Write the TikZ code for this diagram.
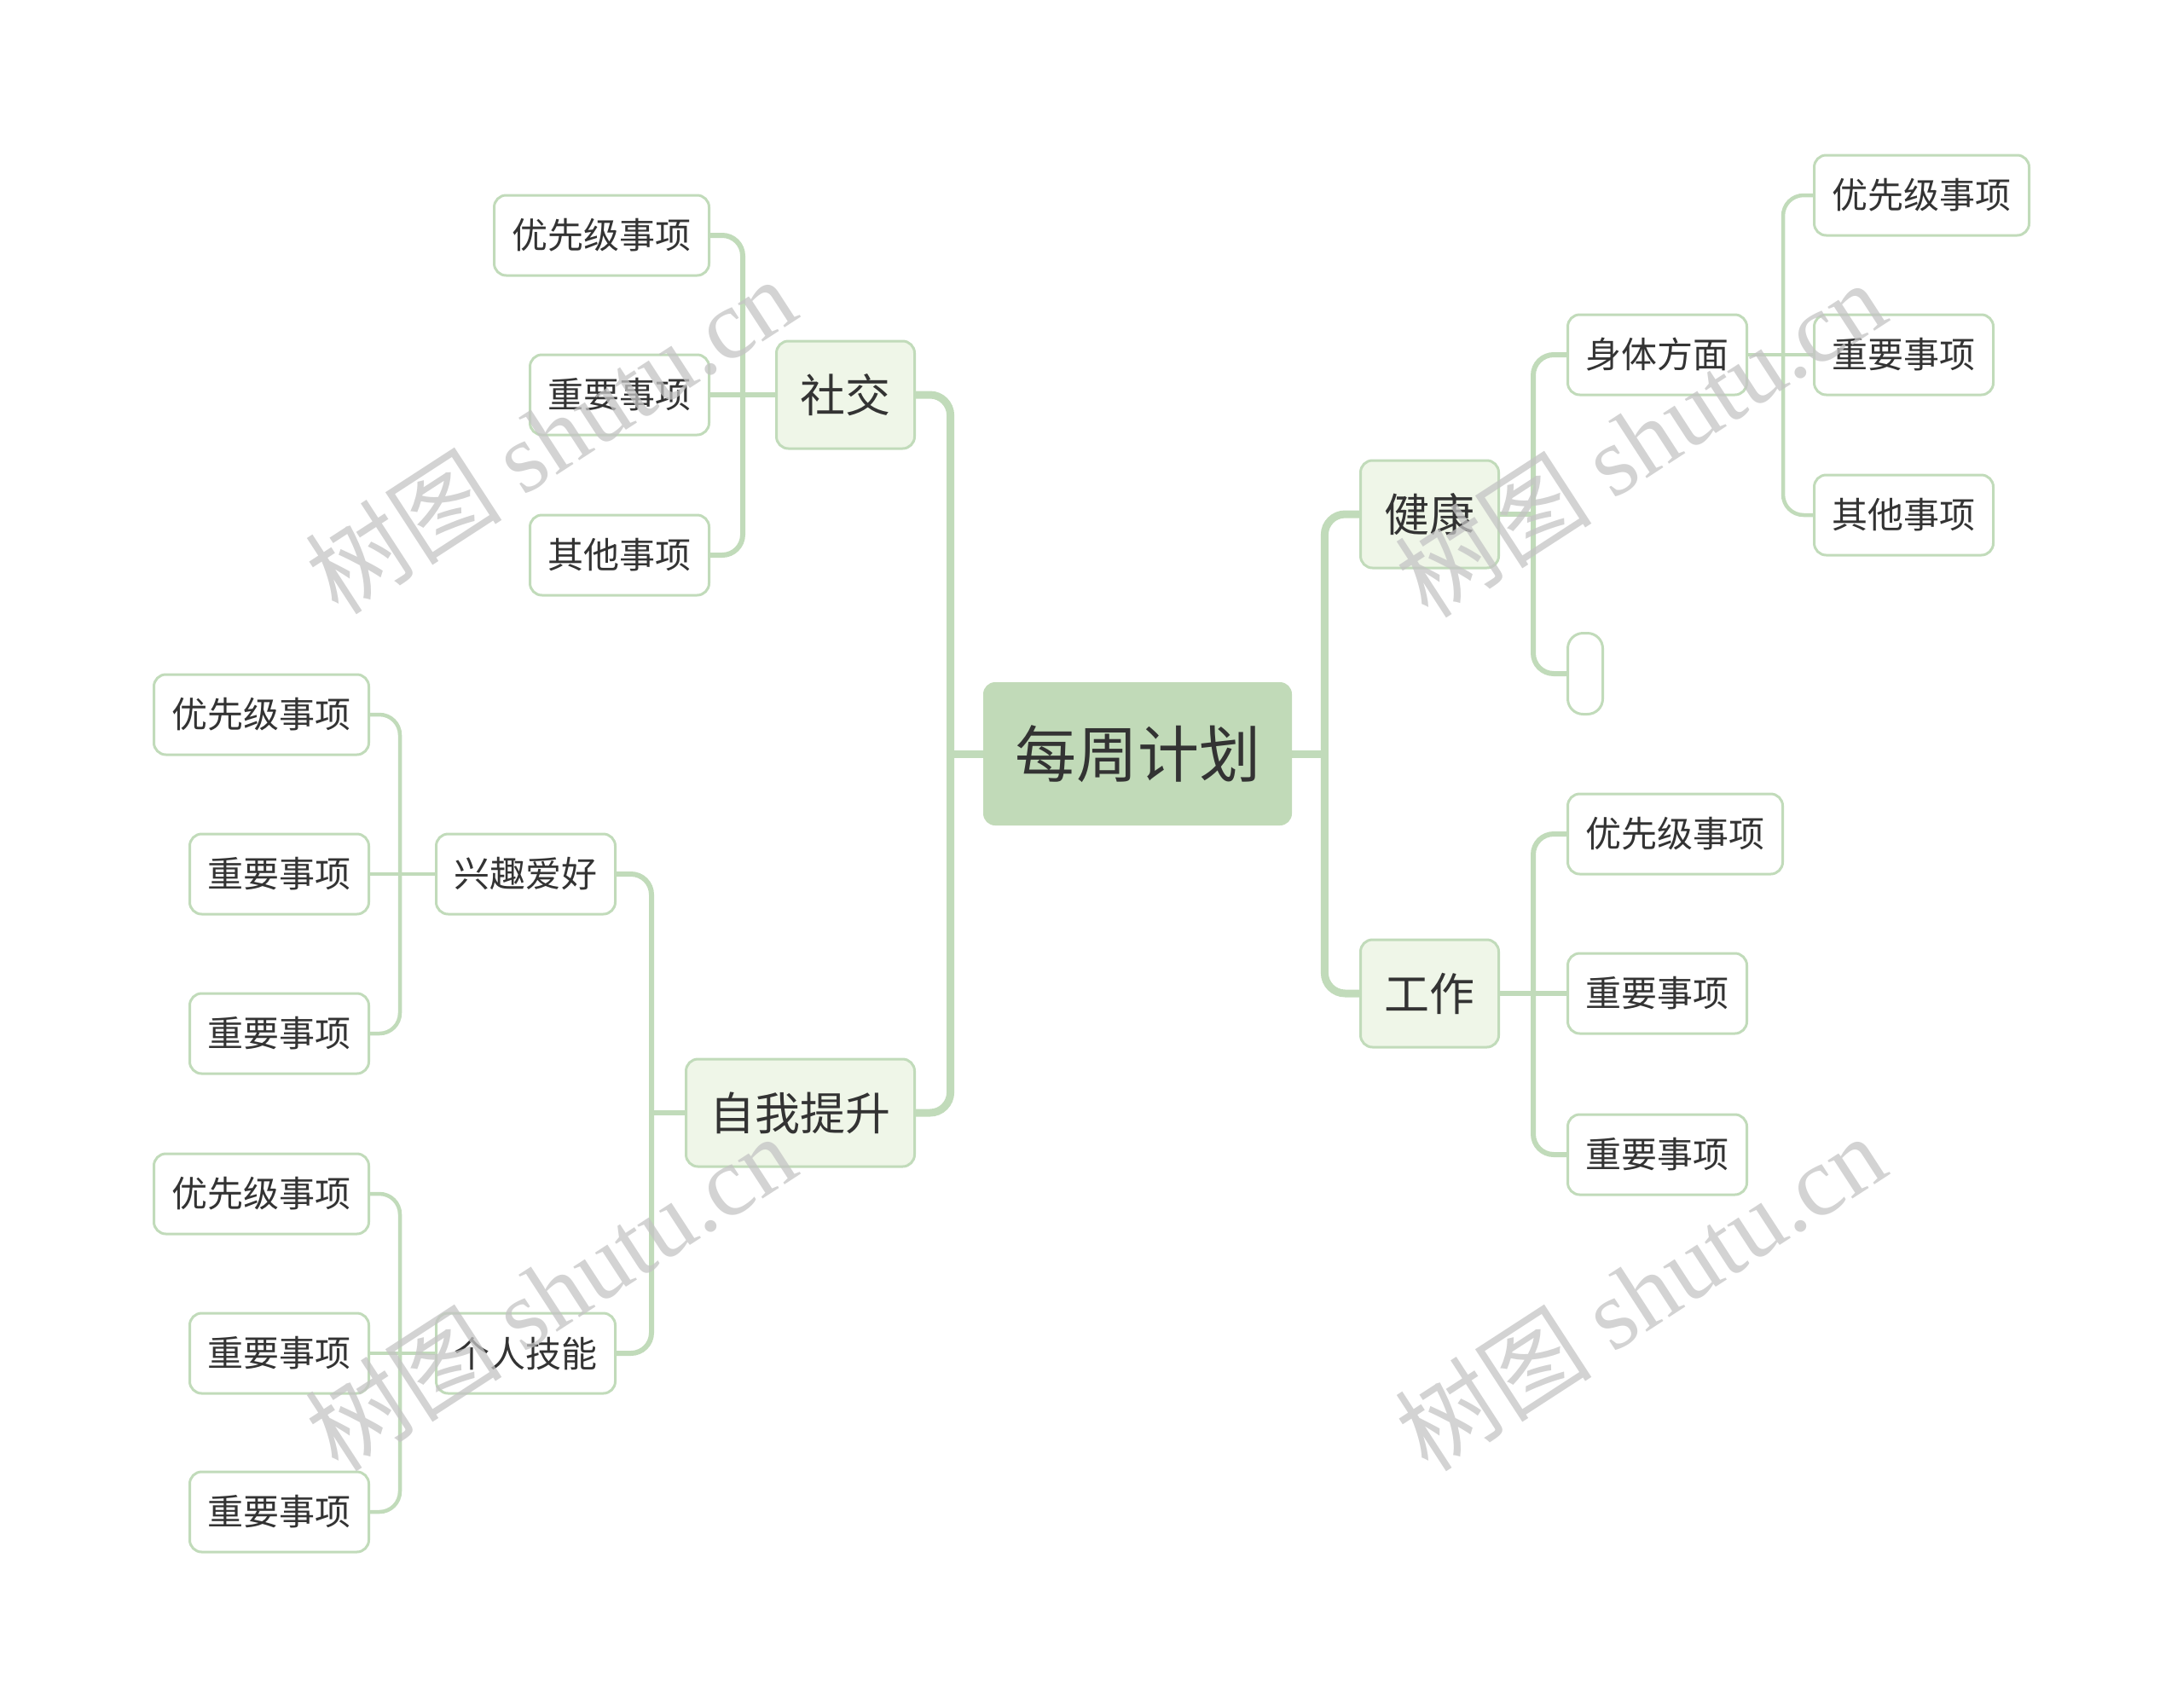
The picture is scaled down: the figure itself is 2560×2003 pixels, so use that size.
\documentclass[tikz,border=0pt]{standalone}
\usepackage{fontspec}
\setmainfont{Noto Sans CJK SC}
\newfontfamily\wmlatin{Liberation Serif}
\definecolor{linec}{HTML}{C1DBBA}
\definecolor{cfill}{HTML}{C1DAB8}
\definecolor{lfill}{HTML}{EFF6E8}
\definecolor{txt}{HTML}{333333}
\definecolor{wmc}{HTML}{C4C4C4}
\pgfdeclarelayer{bg}
\pgfdeclarelayer{fg}
\pgfsetlayers{bg,main,fg}
\tikzset{
  central/.style={fill=cfill, draw=none, rounded corners=7pt, text=txt,
    minimum width=181pt, minimum height=84pt, inner sep=0pt,
    font=\fontsize{36}{40}\selectfont},
  lone/.style={fill=lfill, draw=linec, line width=1.5pt, rounded corners=7pt, text=txt,
    minimum height=63pt, inner xsep=14pt, inner ysep=0pt,
    font=\fontsize{26.5}{30}\selectfont},
  ltwo/.style={fill=white, draw=linec, line width=1.5pt, rounded corners=7pt, text=txt,
    minimum height=47pt, inner xsep=10.5pt, inner ysep=0pt,
    font=\fontsize{21}{24}\selectfont},
  emptybox/.style={fill=white, draw=linec, line width=1.5pt, rounded corners=9pt,
    minimum width=20.5pt, minimum height=47.5pt, inner sep=0pt},
  mainline/.style={draw=linec, line width=4.5pt, rounded corners=12pt},
  subline/.style={draw=linec, line width=3pt, rounded corners=12pt},
  leafline/.style={draw=linec, line width=2.25pt, rounded corners=12pt},
  wmark/.style={text=wmc, opacity=0.75, rotate=33, inner sep=0pt,
    font=\fontsize{58}{60}\selectfont}
}
\begin{document}
\begin{tikzpicture}[x=0.5pt, y=-0.5pt]
\useasboundingbox (0,0) rectangle (2560,2003);
% root and level 1
\node[central] (root) at (1334,884) {每周计划};
\node[lone, anchor=east] (soc) at (1074,463) {社交};
\node[lone, anchor=east] (self) at (1074,1305) {自我提升};
\node[lone, anchor=west] (health) at (1594,603) {健康};
\node[lone, anchor=west] (work) at (1594,1165) {工作};
% 社交
\node[ltwo, anchor=east] (soca) at (833,276) {优先级事项};
\node[ltwo, anchor=east] (socb) at (833,463) {重要事项};
\node[ltwo, anchor=east] (socc) at (833,651) {其他事项};
% 自我提升
\node[ltwo, anchor=east] (hobby) at (723,1025) {兴趣爱好};
\node[ltwo, anchor=east] (skill) at (723,1587) {个人技能};
\node[ltwo, anchor=east] (hoa) at (434,838) {优先级事项};
\node[ltwo, anchor=east] (hob) at (434,1025) {重要事项};
\node[ltwo, anchor=east] (hoc) at (434,1212) {重要事项};
\node[ltwo, anchor=east] (ska) at (434,1400) {优先级事项};
\node[ltwo, anchor=east] (skb) at (434,1587) {重要事项};
\node[ltwo, anchor=east] (skc) at (434,1773) {重要事项};
% 健康
\node[ltwo, anchor=west] (body) at (1837,416) {身体方面};
\node[emptybox, anchor=west] (blank) at (1837,790) {};
\node[ltwo, anchor=west] (boa) at (2126,229) {优先级事项};
\node[ltwo, anchor=west] (bob) at (2126,416) {重要事项};
\node[ltwo, anchor=west] (boc) at (2126,604) {其他事项};
% 工作
\node[ltwo, anchor=west] (wka) at (1837,978) {优先级事项};
\node[ltwo, anchor=west] (wkb) at (1837,1165) {重要事项};
\node[ltwo, anchor=west] (wkc) at (1837,1354) {重要事项};
% spine points
\path (root.west) ++(-38,0) coordinate (sl);
\path (root.east) ++(38,0) coordinate (sr);
\path (soc.west) ++(-38,0) coordinate (ssoc);
\path (self.west) ++(-39,0) coordinate (sself);
\path (health.east) ++(39,0) coordinate (shealth);
\path (work.east) ++(39,0) coordinate (swork);
\path (body.east) ++(41,0) coordinate (sbody);
\path (hobby.west) ++(-41,0) coordinate (shobby);
\path (skill.west) ++(-41,0) coordinate (sskill);
\begin{pgfonlayer}{bg}
% main
\draw[mainline] (root.west) -- (sl);
\draw[mainline] (sl) |- (soc.east);
\draw[mainline] (sl) |- (self.east);
\draw[mainline] (root.east) -- (sr);
\draw[mainline] (sr) |- (health.west);
\draw[mainline] (sr) |- (work.west);
% 社交
\draw[subline] (soc.west) -- (ssoc);
\draw[subline] (ssoc) |- (soca.east);
\draw[subline] (ssoc) -- (socb.east);
\draw[subline] (ssoc) |- (socc.east);
% 自我提升
\draw[subline] (self.west) -- (sself);
\draw[subline] (sself) |- (hobby.east);
\draw[subline] (sself) |- (skill.east);
\draw[leafline] (hobby.west) -- (shobby);
\draw[leafline] (shobby) |- (hoa.east);
\draw[leafline] (shobby) -- (hob.east);
\draw[leafline] (shobby) |- (hoc.east);
\draw[leafline] (skill.west) -- (sskill);
\draw[leafline] (sskill) |- (ska.east);
\draw[leafline] (sskill) -- (skb.east);
\draw[leafline] (sskill) |- (skc.east);
% 健康
\draw[subline] (health.east) -- (shealth);
\draw[subline] (shealth) |- (body.west);
\draw[subline] (shealth) |- (blank.west);
\draw[leafline] (body.east) -- (sbody);
\draw[leafline] (sbody) |- (boa.west);
\draw[leafline] (sbody) -- (bob.west);
\draw[leafline] (sbody) |- (boc.west);
% 工作
\draw[subline] (work.east) -- (swork);
\draw[subline] (swork) |- (wka.west);
\draw[subline] (swork) -- (wkb.west);
\draw[subline] (swork) |- (wkc.west);
\end{pgfonlayer}
\begin{pgfonlayer}{fg}
\node[wmark] (wm1) at (645,510) {树图 {\wmlatin shutu.cn}};
\node[wmark] (wm2) at (645,1515) {树图 {\wmlatin shutu.cn}};
\node[wmark] (wm3) at (1923,514) {树图 {\wmlatin shutu.cn}};
\node[wmark] (wm4) at (1923,1515) {树图 {\wmlatin shutu.cn}};
\end{pgfonlayer}
\end{tikzpicture}
\end{document}
